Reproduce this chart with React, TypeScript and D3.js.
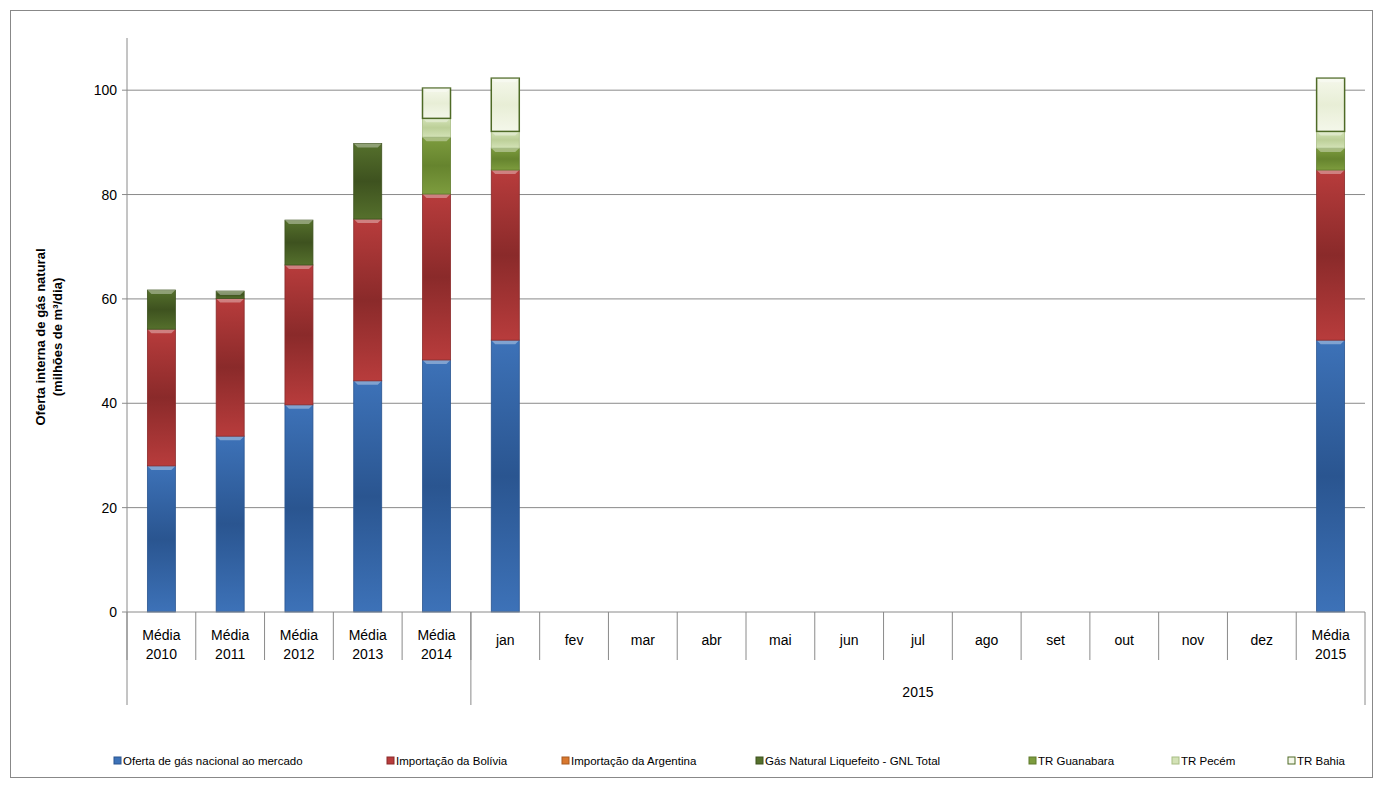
import React from "react";
import * as d3 from "d3";

const categories = ["Média\n2010","Média\n2011","Média\n2012","Média\n2013","Média\n2014","jan","fev","mar","abr","mai","jun","jul","ago","set","out","nov","dez","Média\n2015"];
const nacional = [28,33.7,39.7,44.3,48.3,52.1,0,0,0,0,0,0,0,0,0,0,0,52.1];
const bolivia = [26.2,26.4,26.8,31,31.8,32.6,0,0,0,0,0,0,0,0,0,0,0,32.6];
const argentina = [0,0,0,0,0,0,0,0,0,0,0,0,0,0,0,0,0,0];
const gnl = [7.5,1.4,8.6,14.5,0,0,0,0,0,0,0,0,0,0,0,0,0,0];
const guanabara = [0,0,0,0,10.9,4.2,0,0,0,0,0,0,0,0,0,0,0,4.2];
const pecem = [0,0,0,0,3.6,3.2,0,0,0,0,0,0,0,0,0,0,0,3.2];
const bahia = [0,0,0,0,5.8,10.2,0,0,0,0,0,0,0,0,0,0,0,10.2];
const yTicks = [0,20,40,60,80,100];

const series = [
  { name: "Oferta de gás nacional ao mercado", values: nacional, c: "#3d72b8", s: "#2a5590", k: "#2a5590" },
  { name: "Importação da Bolívia", values: bolivia, c: "#b83c3c", s: "#8a2a2a", k: "#8a2a2a" },
  { name: "Importação da Argentina", values: argentina, c: "#d9782e", s: "#a85a20", k: "#a85a20" },
  { name: "Gás Natural Liquefeito - GNL Total", values: gnl, c: "#55702c", s: "#3e521f", k: "#3e521f" },
  { name: "TR Guanabara", values: guanabara, c: "#7d9c3e", s: "#66842e", k: "#5f7a2c" },
  { name: "TR Pecém", values: pecem, c: "#d3e2b6", s: "#bccf98", k: "#a8bd84" },
  { name: "TR Bahia", values: bahia, c: "#f4f7ea", s: "#e8eed6", k: "#4e6a26" },
];

export default function App() {
  const W = 1383, H = 789;
  const left = 127, right = 1365, top = 38, bottom = 612;
  const x = d3.scaleBand().domain(categories).range([left, right]);
  const y = d3.scaleLinear().domain([0, 110]).range([bottom, top]);
  const bw = 28;
  const font = "Liberation Sans, Arial, sans-serif";
  const legendX = [114, 387, 562, 756, 1029, 1172, 1288];
  return (
    <svg width={W} height={H} style={{ position: "absolute", left: 0, top: 0 }} fontFamily={font}>
      <defs>
        {series.map((s, i) => (
          <linearGradient key={i} id={"g" + i} x1="0" x2="0" y1="0" y2="1">
            <stop offset="0" stopColor={s.c} />
            <stop offset="0.5" stopColor={s.s} />
            <stop offset="1" stopColor={s.c} />
          </linearGradient>
        ))}
      </defs>
      <rect x={0} y={0} width={W} height={H} fill="#fff" />
      <rect x={10.5} y={10.5} width={1362} height={767} fill="none" stroke="#888" />
      {yTicks.filter(t => t > 0).map(t => (
        <line key={t} x1={left} x2={right} y1={y(t)} y2={y(t)} stroke="#8a8a8a" />
      ))}
      <line x1={left} x2={left} y1={top} y2={bottom} stroke="#8a8a8a" />
      {yTicks.map(t => (
        <g key={t}>
          <line x1={left - 5} x2={left} y1={y(t)} y2={y(t)} stroke="#8a8a8a" />
          <text x={left - 10} y={y(t) + 5} textAnchor="end" fontSize={14}>{t}</text>
        </g>
      ))}
      <text transform={`translate(45,${(top + bottom) / 2 + 12}) rotate(-90)`} textAnchor="middle" fontSize={13} fontWeight="bold">
        <tspan x={0} dy={0}>Oferta interna de gás natural</tspan>
        <tspan x={0} dy={17}>(milhões de m³/dia)</tspan>
      </text>
      {categories.map((c, i) => {
        let base = 0;
        const cx = x(c)! + x.bandwidth() / 2;
        return (
          <g key={i}>
            {series.map((s, j) => {
              const v = s.values[i];
              if (!v) return null;
              const y0 = y(base), y1 = y(base + v);
              base += v;
              const h = y0 - y1;
              return (
                <g key={j}>
                  <rect x={cx - bw / 2} y={y1} width={bw} height={h} fill={`url(#g${j})`} stroke={s.k} strokeWidth={j === 6 ? 1.5 : 0.8} />
                  <path d={`M${cx - bw / 2},${y1} L${cx + bw / 2},${y1} L${cx + bw / 2 - 4},${y1 + Math.min(4, h)} L${cx - bw / 2 + 4},${y1 + Math.min(4, h)} Z`} fill="#fff" opacity={0.35} />
                </g>
              );
            })}
          </g>
        );
      })}
      <line x1={left} x2={right} y1={bottom} y2={bottom} stroke="#8a8a8a" />
      {categories.map((c, i) => (
        <line key={i} x1={x(c)!} x2={x(c)!} y1={bottom} y2={660} stroke="#8a8a8a" />
      ))}
      <line x1={right} x2={right} y1={bottom} y2={705} stroke="#8a8a8a" />
      <line x1={left} x2={left} y1={bottom} y2={705} stroke="#8a8a8a" />
      <line x1={x("jan")!} x2={x("jan")!} y1={bottom} y2={705} stroke="#8a8a8a" />
      {categories.map((c, i) => {
        const lines = c.split("\n");
        const cx = x(c)! + x.bandwidth() / 2;
        return (
          <text key={i} x={cx} y={lines.length > 1 ? 640 : 645} textAnchor="middle" fontSize={14}>
            {lines.map((l, k) => <tspan key={k} x={cx} dy={k === 0 ? 0 : 19}>{l}</tspan>)}
          </text>
        );
      })}
      <text x={(x("jan")! + right) / 2} y={697} textAnchor="middle" fontSize={14}>2015</text>
      {series.map((s, j) => (
        <g key={j}>
          <rect x={legendX[j]} y={757} width={7} height={7} fill={s.c} stroke={s.k} />
          <text x={legendX[j] + 9} y={765} fontSize={11.5}>{s.name}</text>
        </g>
      ))}
    </svg>
  );
}
